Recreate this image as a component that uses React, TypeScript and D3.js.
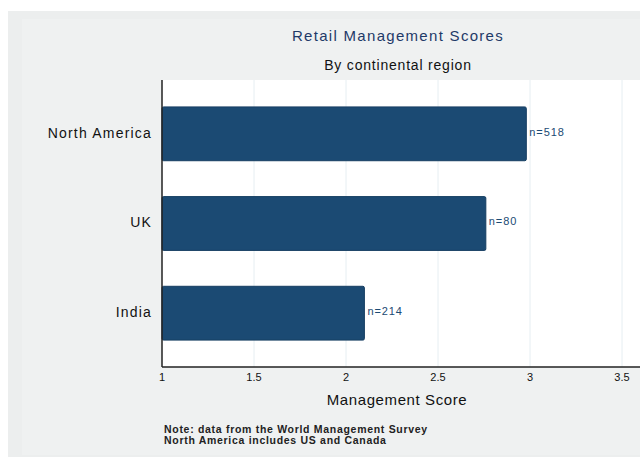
import { useEffect, useRef } from "react"
import * as d3 from "d3"

const regions = ["North America", "UK", "India"]
const scores = [2.98, 2.76, 2.1]
const counts = ["n=518", "n=80", "n=214"]
const xTicks = [1, 1.5, 2, 2.5, 3, 3.5]
const notes = ["Note: data from the World Management Survey", "North America includes US and Canada"]

const FONT = "Liberation Sans, Arial, sans-serif"

const App = () => {
  const ref = useRef<SVGSVGElement>(null)

  useEffect(() => {
    const svg = d3.select(ref.current)
    svg.selectAll("*").remove()

    const margin = { top: 80, right: 0, bottom: 94, left: 162 }
    const W = 640
    const H = 461

    // background
    svg.append("rect").attr("x", 8).attr("y", 11).attr("width", W - 8).attr("height", 446).attr("fill", "#eceeee")
    svg.append("rect").attr("x", 22).attr("y", 19).attr("width", W - 22).attr("height", 436).attr("fill", "#eff1f1")

    const x = d3.scaleLinear().domain([1, 3.5]).range([margin.left, 622])
    const y = d3
      .scaleBand()
      .domain(regions)
      .range([margin.top, H - margin.bottom])
      .paddingInner(0.4)
      .paddingOuter(0.3)

    // plot area
    svg
      .append("rect")
      .attr("x", margin.left)
      .attr("y", margin.top)
      .attr("width", W - margin.left)
      .attr("height", H - margin.bottom - margin.top)
      .attr("fill", "#ffffff")

    // gridlines
    svg
      .selectAll(".grid")
      .data(xTicks.slice(1))
      .enter()
      .append("line")
      .attr("x1", (d) => x(d))
      .attr("x2", (d) => x(d))
      .attr("y1", margin.top)
      .attr("y2", H - margin.bottom)
      .attr("stroke", "#e6eef2")
      .attr("stroke-width", 1)

    // bars
    svg
      .selectAll(".bar")
      .data(regions)
      .enter()
      .append("rect")
      .attr("x", x(1))
      .attr("y", (d) => y(d)!)
      .attr("width", (d, i) => x(scores[i]) - x(1))
      .attr("height", y.bandwidth())
      .attr("rx", 1.5)
      .attr("fill", "#1b4a73")
      .attr("stroke", "#163e62")
      .attr("stroke-width", 1)

    // n labels
    svg
      .selectAll(".nlab")
      .data(regions)
      .enter()
      .append("text")
      .text((d, i) => counts[i])
      .attr("x", (d, i) => x(scores[i]) + 3)
      .attr("y", (d) => y(d)! + y.bandwidth() / 2 - 1)
      .attr("dominant-baseline", "middle")
      .attr("font-family", FONT)
      .attr("font-size", "11px")
      .attr("letter-spacing", "0.9px")
      .attr("fill", "#1b4a73")

    // category labels
    svg
      .selectAll(".cat")
      .data(regions)
      .enter()
      .append("text")
      .text((d) => d)
      .attr("x", 152)
      .attr("y", (d) => y(d)! + y.bandwidth() / 2)
      .attr("dominant-baseline", "middle")
      .attr("text-anchor", "end")
      .attr("font-family", FONT)
      .attr("font-size", "14px")
      .attr("letter-spacing", "1.2px")
      .attr("fill", "#111")

    // axes lines
    svg
      .append("line")
      .attr("x1", margin.left)
      .attr("x2", margin.left)
      .attr("y1", margin.top)
      .attr("y2", H - margin.bottom)
      .attr("stroke", "#222")
      .attr("stroke-width", 1.5)
    svg
      .append("line")
      .attr("x1", margin.left)
      .attr("x2", W)
      .attr("y1", H - margin.bottom)
      .attr("y2", H - margin.bottom)
      .attr("stroke", "#222")
      .attr("stroke-width", 1.5)

    // tick labels
    svg
      .selectAll(".tick")
      .data(xTicks)
      .enter()
      .append("text")
      .text((d) => String(d))
      .attr("x", (d) => x(d))
      .attr("y", H - margin.bottom + 14)
      .attr("text-anchor", "middle")
      .attr("font-family", FONT)
      .attr("font-size", "11px")
      .attr("fill", "#111")

    svg
      .append("text")
      .text("Management Score")
      .attr("x", 397)
      .attr("y", 405)
      .attr("text-anchor", "middle")
      .attr("font-family", FONT)
      .attr("font-size", "15px")
      .attr("letter-spacing", "0.6px")
      .attr("fill", "#111")

    // titles
    svg
      .append("text")
      .text("Retail Management Scores")
      .attr("x", 398)
      .attr("y", 41)
      .attr("text-anchor", "middle")
      .attr("font-family", FONT)
      .attr("font-size", "15px")
      .attr("letter-spacing", "1.3px")
      .attr("fill", "#1f3a68")
    svg
      .append("text")
      .text("By continental region")
      .attr("x", 398)
      .attr("y", 70)
      .attr("text-anchor", "middle")
      .attr("font-family", FONT)
      .attr("font-size", "14px")
      .attr("letter-spacing", "0.8px")
      .attr("fill", "#111")

    // notes
    svg
      .selectAll(".note")
      .data(notes)
      .enter()
      .append("text")
      .text((d) => d)
      .attr("x", 164)
      .attr("y", (d, i) => 433 + i * 11)
      .attr("font-family", FONT)
      .attr("font-size", "10.5px")
      .attr("letter-spacing", "0.7px")
      .attr("font-weight", "bold")
      .attr("fill", "#222")
  }, [])

  return (
    <svg
      ref={ref}
      width={640}
      height={461}
      style={{ position: "absolute", left: 0, top: 0 }}
    />
  )
}

export default App
